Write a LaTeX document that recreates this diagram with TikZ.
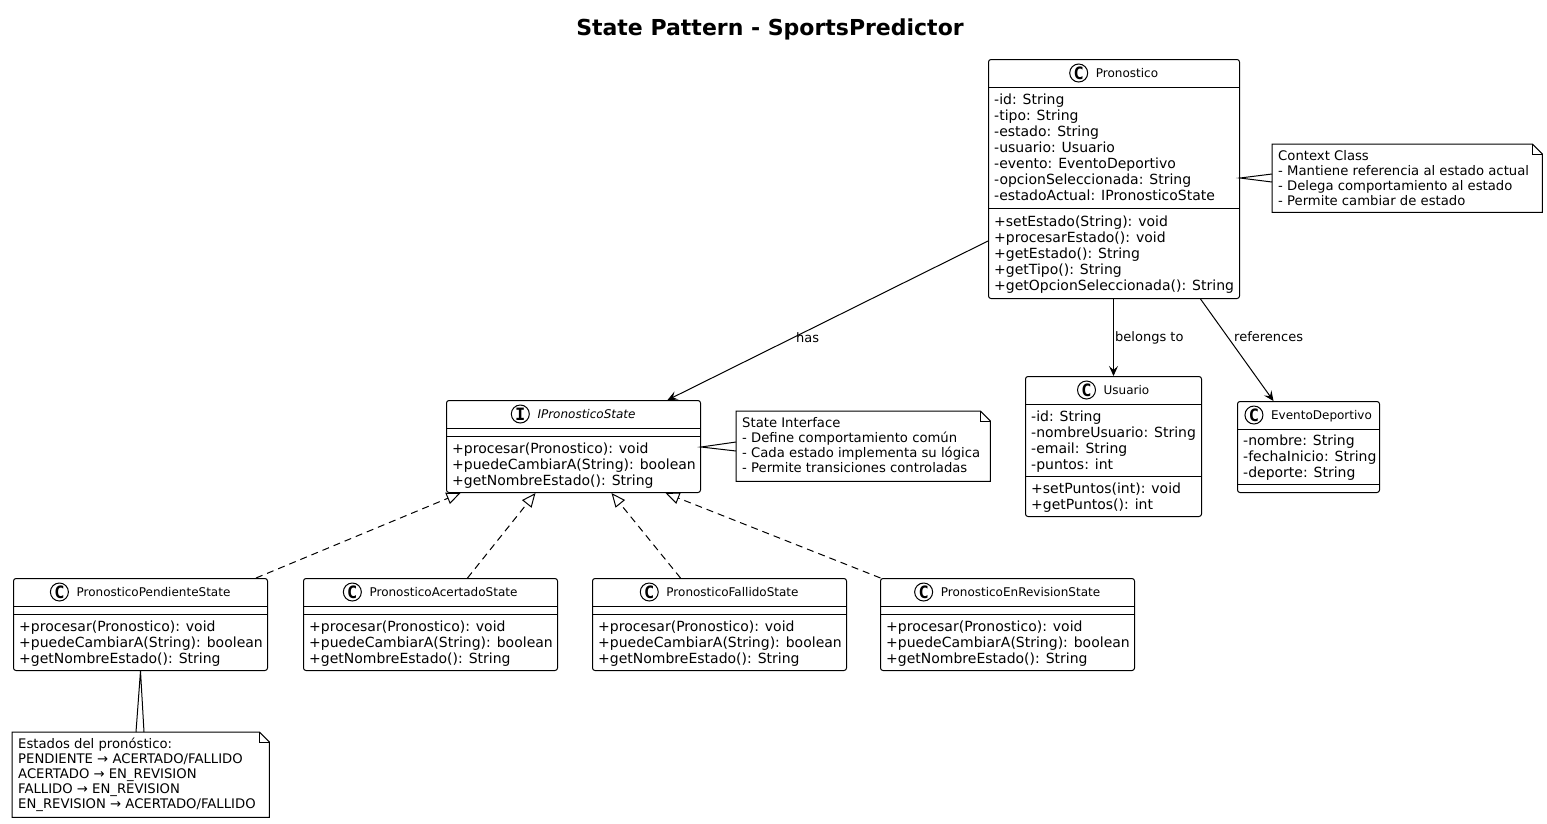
\documentclass[tikz,border=0pt]{standalone}
\usepackage{fontspec}
\setmainfont{DejaVu Sans}
\newfontfamily\iconfont{DejaVu Sans Mono}
\usetikzlibrary{arrows.meta,calc}
\tikzset{
  box/.style={draw, rounded corners=2.5pt, line width=1pt, inner sep=0pt, anchor=north west, fill=white},
  mem/.style={font=\fontsize{14}{16}\selectfont, anchor=base west, inner sep=0pt},
  cname/.style={font=\fontsize{12}{14}\selectfont, anchor=base, inner sep=0pt},
  cicon/.style={draw, circle, line width=1pt, minimum size=18pt, inner sep=0pt, fill=white, font=\iconfont\bfseries\fontsize{17}{17}\selectfont},
  notetxt/.style={font=\fontsize{13.2}{15}\selectfont, anchor=base west, inner sep=0pt},
  lbl/.style={font=\fontsize{13}{15}\selectfont, anchor=base west, inner sep=0pt},
  assoc/.style={line width=1pt, -{Stealth[length=10pt,width=9pt,inset=4pt]}},
  realize/.style={line width=1pt, dash pattern=on 7pt off 5pt, -{Triangle[open,length=14pt,width=12pt]}},
  sepline/.style={line width=1pt},
  notebox/.style={inner sep=0pt, anchor=north west},
  noteline/.style={line width=1pt},
  wedge/.style={line width=1pt},
}
% class box: name, x, top y, width, height, icon letter, title
\newcommand\mkclass[7]{%
  \node[box, minimum width=#4pt, minimum height=#5pt] (#1) at (#2,-#3) {};
  \node[cname] (#1-name) at ($(#1.north)+(13,-18)$) {#7};
  \node[cicon] (#1-icon) at ($(#1-name.base west)+(-17,4)$) {#6};
  \draw[sepline] ($(#1.north west)+(0,-28)$) -- ($(#1.north east)+(0,-28)$);
}
\newcommand\mksep[2]{\draw[sepline] ($(#1.north west)+(0,-#2)$) -- ($(#1.north east)+(0,-#2)$);}
\newcommand\mkmem[4]{\foreach \t [count=\i from 0] in {#4} {\node[mem] (#1-#2\i) at ($(#1.north west)+(6,{-#3-16*\i})$) {\t};}}
% note: name, x, top y, width, height
\newcommand\mknote[5]{%
  \node[notebox, minimum width=#4pt, minimum height=#5pt] (#1) at (#2,-#3) {};
  \draw[noteline, fill=white] (#1.north west) -- ([xshift=-10pt]#1.north east) -- ([yshift=-10pt]#1.north east) -- (#1.south east) -- (#1.south west) -- cycle;
  \draw[noteline] ([xshift=-10pt]#1.north east) |- ([yshift=-10pt]#1.north east);
}
\newcommand\mknotetext[2]{\foreach \t [count=\i from 0] in {#2} {\node[notetxt] (#1-t\i) at ($(#1.north west)+(6,{-16.5-15*\i})$) {\t};}}
\begin{document}
\begin{tikzpicture}[x=1pt,y=1pt]
\fill[white] (0,0) rectangle (1547,-823);
\useasboundingbox (0,0) rectangle (1547,-823);

\node[font=\fontsize{22}{26}\selectfont\bfseries, anchor=base, inner sep=0pt] (title) at (770,-35) {State Pattern - SportsPredictor};

% Pronostico
\mkclass{pron}{988}{59}{251}{239}{C}{Pronostico}
\mksep{pron}{149}
\mkmem{pron}{a}{45.5}{-id: String,-tipo: String,-estado: String,-usuario: Usuario,-evento: EventoDeportivo,-opcionSeleccionada: String,-estadoActual: IPronosticoState}
\mkmem{pron}{m}{167}{+setEstado(String): void,+procesarEstado(): void,+getEstado(): String,+getTipo(): String,+getOpcionSeleccionada(): String}

% IPronosticoState
\mkclass{ist}{446}{400}{254}{92}{I}{\itshape IPronosticoState}
\mksep{ist}{36}
\mkmem{ist}{m}{53}{+procesar(Pronostico): void,+puedeCambiarA(String): boolean,+getNombreEstado(): String}

% Usuario
\mkclass{usr}{1025}{376}{176}{140}{C}{Usuario}
\mksep{usr}{100}
\mkmem{usr}{a}{45}{-id: String,-nombreUsuario: String,-email: String,-puntos: int}
\mkmem{usr}{m}{117}{+setPuntos(int): void,+getPuntos(): int}

% EventoDeportivo
\mkclass{evt}{1237}{401}{142}{91}{C}{EventoDeportivo}
\mksep{evt}{83}
\mkmem{evt}{a}{44}{-nombre: String,-fechaInicio: String,-deporte: String}

% State classes
\mkclass{pend}{13}{578}{254}{92}{C}{PronosticoPendienteState}
\mksep{pend}{36}
\mkmem{pend}{m}{53}{+procesar(Pronostico): void,+puedeCambiarA(String): boolean,+getNombreEstado(): String}

\mkclass{acer}{303}{578}{254}{92}{C}{PronosticoAcertadoState}
\mksep{acer}{36}
\mkmem{acer}{m}{53}{+procesar(Pronostico): void,+puedeCambiarA(String): boolean,+getNombreEstado(): String}

\mkclass{fall}{592}{578}{254}{92}{C}{PronosticoFallidoState}
\mksep{fall}{36}
\mkmem{fall}{m}{53}{+procesar(Pronostico): void,+puedeCambiarA(String): boolean,+getNombreEstado(): String}

\mkclass{rev}{880}{578}{254}{92}{C}{PronosticoEnRevisionState}
\mksep{rev}{36}
\mkmem{rev}{m}{53}{+procesar(Pronostico): void,+puedeCambiarA(String): boolean,+getNombreEstado(): String}

% Notes
\mknote{ctxnote}{1272}{144}{270}{68}
\mknotetext{ctxnote}{Context Class,- Mantiene referencia al estado actual,- Delega comportamiento al estado,- Permite cambiar de estado}
\draw[wedge] ([yshift=-30pt]ctxnote.north west) -- ([yshift=-119pt]pron.north east) -- ([yshift=-38pt]ctxnote.north west);

\mknote{stnote}{736}{411}{254}{70}
\mknotetext{stnote}{State Interface,- Define comportamiento común,- Cada estado implementa su lógica,- Permite transiciones controladas}
\draw[wedge] ([yshift=-31pt]stnote.north west) -- ([yshift=-47pt]ist.north east) -- ([yshift=-40pt]stnote.north west);

\mknote{estnote}{12}{732}{257}{85}
\mknotetext{estnote}{Estados del pronóstico:,PENDIENTE → ACERTADO/FALLIDO,ACERTADO → EN\_REVISION,FALLIDO → EN\_REVISION,EN\_REVISION → ACERTADO/FALLIDO}
\draw[wedge] ([xshift=124pt]estnote.north west) -- (pend.south) -- ([xshift=132pt]estnote.north west);

% Associations
\draw[assoc] ([yshift=-182pt]pron.north west) -- ([xshift=94pt]ist.north);
\draw[assoc] (pron.south -| usr.north) -- (usr.north);
\draw[assoc] ([xshift=86.5pt]pron.south) -- ([xshift=-35pt]evt.north);
\node[lbl] (lhas) at (796,-342) {has};
\node[lbl] (lbel) at (1115,-341) {belongs to};
\node[lbl] (lref) at (1234,-341) {references};

% Realizations
\draw[realize] ([xshift=115.5pt]pend.north) -- ([xshift=-113pt]ist.south);
\draw[realize] ([xshift=37pt]acer.north) -- ([xshift=-38pt]ist.south);
\draw[realize] ([xshift=-39pt]fall.north) -- ([xshift=38pt]ist.south);
\draw[realize] ([xshift=0.5pt]rev.north west) -- ([xshift=92pt]ist.south);
\end{tikzpicture}
\end{document}
